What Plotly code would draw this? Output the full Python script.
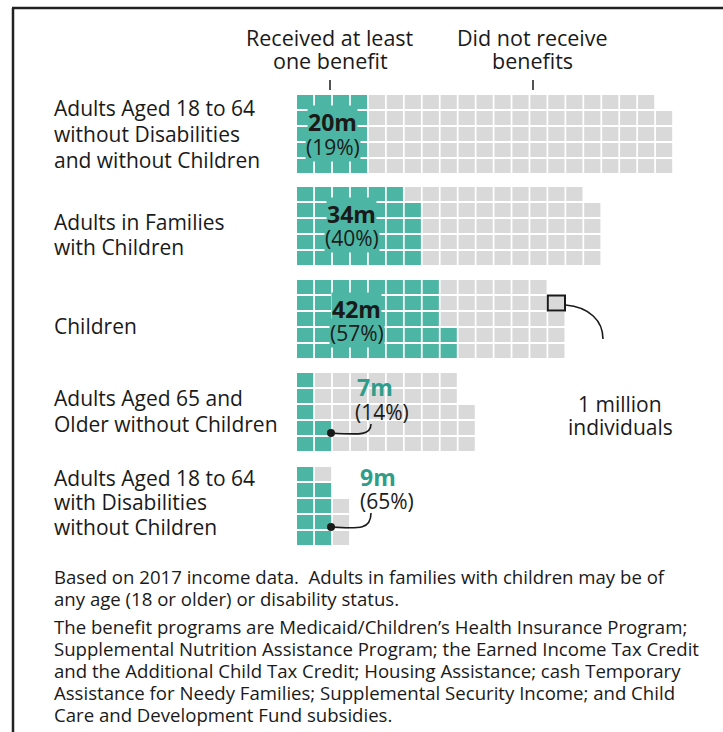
import plotly.graph_objects as go

# ---------------- data ----------------
categories = [
    ["Adults Aged 18 to 64", "without Disabilities", "and without Children"],
    ["Adults in Families", "with Children"],
    ["Children"],
    ["Adults Aged 65 and", "Older without Children"],
    ["Adults Aged 18 to 64", "with Disabilities", "without Children"],
]
received = [20, 34, 42, 7, 9]          # millions, received at least one benefit
not_received = [84, 50, 32, 41, 4]     # millions, did not receive benefits
percent = [19, 40, 57, 14, 65]

header_left = ["Received at least", "one benefit"]
header_right = ["Did not receive", "benefits"]
unit_note = ["1 million", "individuals"]
footnote_1 = ["Based on 2017 income data.  Adults in families with children may be of",
              "any age (18 or older) or disability status."]
footnote_2 = ["The benefit programs are Medicaid/Children\u2019s Health Insurance Program;",
              "Supplemental Nutrition Assistance Program; the Earned Income Tax Credit",
              "and the Additional Child Tax Credit; Housing Assistance; cash Temporary",
              "Assistance for Needy Families; Supplemental Security Income; and Child",
              "Care and Development Fund subsidies."]

# ---------------- styling / layout ----------------
W, H = 723, 732
TEAL = "#4cb5a3"
TEAL_TXT = "#2e9e8b"
GRAY = "#d9d9d9"
INK = "#1a1a1a"
FONT = "Open Sans"

X0 = 297.0        # left edge of grids
PX, PY = 17.95, 16.0
CW, CH = 16.2, 14.0
ROWS = 5
group_top = [95, 187, 280, 373, 467]

def cell_rect(g, k):
    col = k // ROWS
    b = k % ROWS               # filled bottom-to-top
    r = ROWS - 1 - b
    x0 = X0 + col * PX
    y0 = group_top[g] + r * PY
    return x0, y0, x0 + CW, y0 + CH

shapes = []
annotations = []

def txt(x, y, s, size=21, color=INK, anchor="left", bold=False, bg=None):
    a = dict(x=x, y=y, xref="x", yref="y", text=("<b>%s</b>" % s) if bold else s,
             showarrow=False, xanchor=anchor, yanchor="middle",
             font=dict(family=FONT, size=size, color=color))
    if bg:
        a.update(bgcolor=bg, borderpad=0)
    annotations.append(a)

for g in range(len(received)):
    n_total = received[g] + not_received[g]
    for k in range(n_total):
        x0, y0, x1, y1 = cell_rect(g, k)
        shapes.append(dict(type="rect", xref="x", yref="y", x0=x0, y0=y0, x1=x1, y1=y1,
                           line=dict(width=0), fillcolor=TEAL if k < received[g] else GRAY,
                           layer="below"))

# category labels
label_offsets = [[13, 39, 65], [35, 60], [46], [25, 51], [11, 35, 60]]
for g, lines in enumerate(categories):
    for ln, off in zip(lines, label_offsets[g]):
        txt(52, group_top[g] + off, ln)

# value labels
inside = [True, True, True, False, False]
val_x = [332, 351, 356, 355, 358]
pct_x = [333, 352, 357, 353, 358]
val_dy = [27, 27, 29, 14, 10]
pct_dy = [52, 51, 53, 39, 34]
for g in range(len(received)):
    t = group_top[g]
    if inside[g]:
        txt(val_x[g], t + val_dy[g], "%dm" % received[g], size=23, bold=True, anchor="center", bg=TEAL)
        txt(pct_x[g], t + pct_dy[g], "(%d%%)" % percent[g], anchor="center", bg=TEAL)
    else:
        txt(val_x[g], t + val_dy[g], "%dm" % received[g], size=23, bold=True, color=TEAL_TXT)
        txt(pct_x[g], t + pct_dy[g], "(%d%%)" % percent[g])

# connector curves for small groups
dots_x, dots_y = [], []
for g in (3, 4):
    t = group_top[g]
    dx, dy = 331, t + 60
    dots_x.append(dx); dots_y.append(dy)
    ex, ey = 371, t + 51 if g == 3 else t + 46
    shapes.append(dict(type="path", xref="x", yref="y",
                       path="M %f,%f C %f,%f %f,%f %f,%f" % (dx, dy, dx + 30, dy + 2, ex, dy + 2, ex, ey),
                       line=dict(color=INK, width=1.6)))

# headers
for i, ln in enumerate(header_left):
    txt(330, 37 + 23 * i, ln, size=21.5, anchor="center")
for i, ln in enumerate(header_right):
    txt(532, 37 + 23 * i, ln, size=21.5, anchor="center")
for tx in (330, 533):
    shapes.append(dict(type="line", xref="x", yref="y", x0=tx, x1=tx, y0=80, y1=90,
                       line=dict(color=INK, width=1.5)))

# 1 million callout (last cell of Children group)
cx0, cy0, cx1, cy1 = cell_rect(2, received[2] + not_received[2] - 1)
shapes.append(dict(type="rect", xref="x", yref="y", x0=cx0 - 0.5, y0=cy0 - 0.5, x1=cx1 + 0.5, y1=cy1 + 0.5,
                   line=dict(color=INK, width=2), fillcolor="rgba(0,0,0,0)"))
shapes.append(dict(type="path", xref="x", yref="y",
                   path="M %f,%f C %f,%f %f,%f %f,%f" % (cx1 + 1, cy0 + 9, cx1 + 25, cy0 + 11, 603, cy0 + 25, 603, cy0 + 43),
                   line=dict(color=INK, width=1.6)))
for i, ln in enumerate(unit_note):
    txt(620, 404 + 23 * i, ln, anchor="center")

# footnotes
for i, ln in enumerate(footnote_1):
    txt(52, 576 + 22 * i, ln, size=18.6)
for i, ln in enumerate(footnote_2):
    txt(52, 626 + 22 * i, ln, size=18.6)

# frame
shapes.append(dict(type="line", xref="x", yref="y", x0=12, x1=W, y0=8, y1=8, line=dict(color="#222", width=2.5)))
shapes.append(dict(type="line", xref="x", yref="y", x0=13, x1=13, y0=8, y1=H, line=dict(color="#222", width=2.5)))

fig = go.Figure()
fig.add_trace(go.Scatter(x=dots_x, y=dots_y, mode="markers",
                         marker=dict(color=INK, size=8), hoverinfo="skip", showlegend=False))
fig.update_layout(
    width=W, height=H, margin=dict(l=0, r=0, t=0, b=0),
    paper_bgcolor="white", plot_bgcolor="white",
    xaxis=dict(range=[0, W], visible=False, fixedrange=True),
    yaxis=dict(range=[H, 0], visible=False, fixedrange=True),
    shapes=shapes, annotations=annotations, showlegend=False,
)
fig.write_html("out.html", config={"displayModeBar": False},
               post_script="document.body.style.margin='0px';document.body.style.overflow='hidden';")
